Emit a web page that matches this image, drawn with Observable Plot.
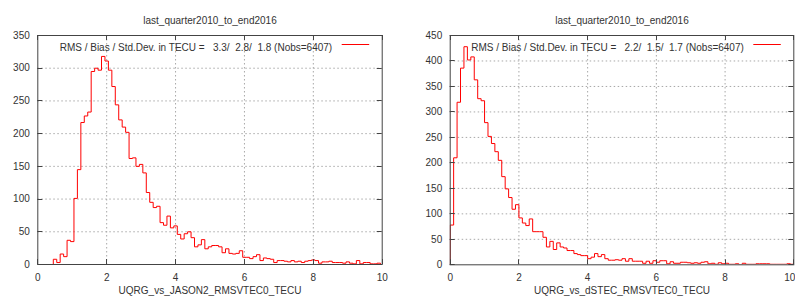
<!DOCTYPE html>
<html><head><meta charset="utf-8">
<script src="https://cdn.jsdelivr.net/npm/d3@7"></script>
<script src="https://cdn.jsdelivr.net/npm/@observablehq/plot@0.6"></script>
<style>
body{margin:0;background:#fff}
#wrap{position:relative;width:795px;height:300px;overflow:hidden;background:#fff}
#wrap svg{position:absolute;top:0}
svg text{white-space:pre}
</style></head><body><div id="wrap"></div>
<script>
const titleText = "last_quarter2010_to_end2016";
const leftXLabel = "UQRG_vs_JASON2_RMSVTEC0_TECU";
const rightXLabel = "UQRG_vs_dSTEC_RMSVTEC0_TECU";
const leftLegend = "RMS / Bias / Std.Dev. in TECU =   3.3/  2.8/  1.8 (Nobs=6407)";
const rightLegend = "RMS / Bias / Std.Dev. in TECU =   2.2/  1.5/  1.7 (Nobs=6407)";
const xTicks = [0, 2, 4, 6, 8, 10];
const leftYTicks = [0, 50, 100, 150, 200, 250, 300, 350];
const rightYTicks = [0, 50, 100, 150, 200, 250, 300, 350, 400, 450];
const binWidth = 0.1;
// left: bins centred on 0.0, 0.1, ... 10.0
const leftCounts = [
  0,0,0,0,0,8,3,16,12,37,
  35,101,145,217,227,233,295,300,297,318,
  311,297,272,244,221,210,202,162,163,150,
  153,140,110,95,87,89,64,60,74,56,
  59,46,39,47,50,41,27,30,38,24,
  27,29,29,27,18,24,17,16,17,21,
  11,11,9,12,15,6,10,9,8,3,
  6,6,5,4,6,4,5,3,5,6,
  7,6,2,4,4,5,3,3,3,2,
  4,2,1,6,1,3,3,1,1,2,
  0
];
// right: bins [0,0.1], [0.1,0.2], ... [9.9,10]
const rightCounts = [
  78,210,319,386,428,402,408,363,326,322,
  279,252,238,222,205,173,149,132,109,118,
  92,82,77,90,65,65,65,54,35,46,
  30,43,35,33,28,28,22,20,18,18,
  12,15,22,16,20,12,9,9,10,9,
  12,7,12,7,7,7,3,7,3,8,
  5,8,8,2,6,3,3,5,5,4,
  3,4,3,5,6,2,3,1,4,2,
  3,1,1,2,0,3,1,1,1,2,
  2,2,2,1,1,1,1,1,2,1
];

const leftData = leftCounts.map((c, i) => ({x: i * binWidth, y: c}));
const rightData = [{x: -binWidth / 2, y: 0}]
  .concat(rightCounts.map((c, i) => ({x: (i + 0.5) * binWidth, y: c})))
  .concat([{x: 10 + binWidth / 2, y: 0}]);

const frameColor = "#444";
const gridColor = "#a8a8a8";
const lineColor = "#ff0000";

function innerTicks(xt, yt) {
  return (index, scales, values, dims) => {
    const g = d3.create("svg:g").attr("stroke", frameColor).attr("fill", "none");
    const L = dims.marginLeft, R = dims.width - dims.marginRight;
    const T = dims.marginTop, B = dims.height - dims.marginBottom;
    for (const v of yt) {
      const y = Math.round(scales.y(v)) + 0.5;
      g.append("line").attr("x1", L).attr("x2", L + 5).attr("y1", y).attr("y2", y);
      g.append("line").attr("x1", R - 5).attr("x2", R).attr("y1", y).attr("y2", y);
    }
    for (const v of xt) {
      const x = Math.round(scales.x(v)) + 0.5;
      g.append("line").attr("x1", x).attr("x2", x).attr("y1", B).attr("y2", B - 5);
      g.append("line").attr("x1", x).attr("x2", x).attr("y1", T).attr("y2", T + 5);
    }
    return g.node();
  };
}

function legendLine() {
  return (index, scales, values, dims) => {
    const R = dims.width - dims.marginRight;
    const y = Math.round(dims.marginTop + 8.5) + 0.5;
    const g = d3.create("svg:g");
    g.append("line")
      .attr("x1", R - 40).attr("x2", R - 12.5)
      .attr("y1", y).attr("y2", y)
      .style("stroke", lineColor).style("stroke-width", "1px");
    return g.node();
  };
}

function panel({data, yTicks, yMax, xLabel, legend, width, marginLeft, marginRight, marginBottom, lastTickEnd}) {
  const xt = lastTickEnd ? xTicks.slice(0, -1) : xTicks;
  const marks = [
    Plot.gridX({ticks: xTicks.slice(1, -1), stroke: gridColor, strokeOpacity: 1, strokeDasharray: "1.5,2.5"}),
    Plot.gridY({ticks: yTicks.slice(1, -1), stroke: gridColor, strokeOpacity: 1, strokeDasharray: "1.5,2.5"}),
    Plot.line(data, {x: "x", y: "y", curve: "step", stroke: lineColor, strokeWidth: 1, clip: true}),
    Plot.frame({stroke: frameColor}),
    innerTicks(xTicks, yTicks),
    Plot.axisX({ticks: xt, tickSize: 0, tickPadding: 9, label: null}),
    Plot.axisY({ticks: yTicks, tickSize: 0, tickPadding: 8, label: null}),
    Plot.text([titleText], {frameAnchor: "top", dy: -19, text: d => d}),
    Plot.text([xLabel], {frameAnchor: "bottom", dy: 29, text: d => d}),
    Plot.text([legend], {frameAnchor: "top-right", textAnchor: "end", dx: -50, dy: 8.5, text: d => d}),
    legendLine()
  ];
  if (lastTickEnd) {
    marks.push(Plot.axisX({ticks: xTicks.slice(-1), tickSize: 0, tickPadding: 9, label: null, textAnchor: "end", dx: 1.5}));
  }
  return Plot.plot({
    width, height: 300,
    marginLeft, marginRight, marginTop: 35, marginBottom,
    style: {fontFamily: "'Liberation Sans', Arial, sans-serif", fontSize: "10px", color: "#333", background: "transparent"},
    x: {domain: [0, 10]},
    y: {domain: [0, yMax]},
    marks
  });
}

const wrap = document.getElementById("wrap");
const left = panel({data: leftData, yTicks: leftYTicks, yMax: 350, xLabel: leftXLabel, legend: leftLegend,
  width: 397, marginLeft: 37.3, marginRight: 15.3, marginBottom: 36, lastTickEnd: false});
left.style.left = "0px";
wrap.appendChild(left);
const right = panel({data: rightData, yTicks: rightYTicks, yMax: 450, xLabel: rightXLabel, legend: rightLegend,
  width: 398, marginLeft: 52.7, marginRight: 1.7, marginBottom: 35.7, lastTickEnd: true});
right.style.left = "397px";
wrap.appendChild(right);
</script>
</body></html>
